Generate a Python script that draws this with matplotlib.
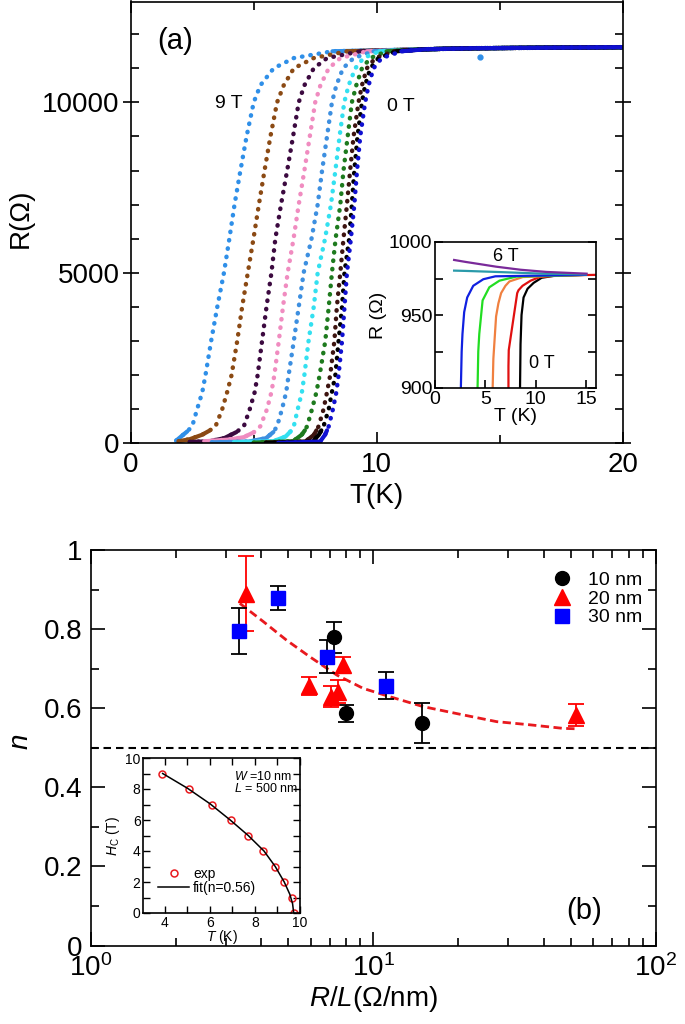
import numpy as np
import matplotlib
matplotlib.use("Agg")
import matplotlib.pyplot as plt
from matplotlib.lines import Line2D
from matplotlib.ticker import MultipleLocator, FixedLocator, FuncFormatter

plt.rcParams['font.family'] = ['Liberation Sans', 'DejaVu Sans']
plt.rcParams['mathtext.fontset'] = 'custom'
plt.rcParams['mathtext.rm'] = 'Liberation Sans'
plt.rcParams['mathtext.it'] = 'Liberation Sans:italic'
plt.rcParams['axes.linewidth'] = 1.2

# ---------------- panel (a): R(T) in fields 9 T ... 0 T
curve_colors = ['#2f8fe8', '#8b4a14', '#3c0a40', '#f08cc0', '#3d8fe0',
                '#33e0f0', '#1e7a1e', '#3d1410', '#000000', '#1010d0']

# resistance levels of the transition part (Ohm)
R_steep = [500, 1000, 1500, 2000, 3000, 4000, 5000, 6000, 7000, 8000,
           9000, 10000, 10500, 11000, 11300, 11500]

# temperature (K) where each curve crosses those levels, 9 T first
T_9T = [2.50, 2.70, 2.91, 3.04, 3.27, 3.52, 3.79, 4.01, 4.22, 4.46, 4.71, 5.00, 5.27, 5.81, 6.63, 8.2]
T_8T = [3.45, 3.72, 3.92, 4.10, 4.33, 4.53, 4.76, 4.99, 5.21, 5.44, 5.68, 5.95, 6.22, 6.63, 7.44, 8.79]
T_7T = [4.60, 4.84, 5.04, 5.16, 5.34, 5.52, 5.72, 5.88, 6.11, 6.36, 6.60, 6.83, 7.06, 7.44, 7.98, 9.33]
T_6T = [5.27, 5.54, 5.72, 5.84, 6.02, 6.19, 6.38, 6.62, 6.83, 7.06, 7.28, 7.50, 7.71, 8.05, 8.52, 9.60]
T_5T = [5.95, 6.15, 6.32, 6.42, 6.63, 6.83, 7.03, 7.35, 7.60, 7.78, 7.98, 8.18, 8.36, 8.63, 9.06, 9.87]
T_4T = [6.63, 6.79, 6.96, 7.06, 7.23, 7.44, 7.60, 7.90, 8.14, 8.32, 8.49, 8.68, 8.86, 9.13, 9.46, 10.1]
T_3T = [7.17, 7.37, 7.55, 7.68, 7.91, 8.05, 8.18, 8.33, 8.52, 8.65, 8.82, 8.99, 9.17, 9.40, 9.74, 10.4]
T_2T = [7.64, 7.84, 7.98, 8.11, 8.28, 8.38, 8.52, 8.65, 8.79, 8.92, 9.06, 9.26, 9.40, 9.60, 9.94, 10.7]
T_1T = [7.84, 8.05, 8.18, 8.32, 8.45, 8.59, 8.69, 8.88, 8.99, 9.09, 9.22, 9.40, 9.53, 9.74, 10.07, 10.8]
T_0T = [8.05, 8.22, 8.36, 8.45, 8.59, 8.69, 8.79, 8.95, 9.09, 9.20, 9.33, 9.53, 9.67, 9.87, 10.2, 11.0]
T_steep = [T_9T, T_8T, T_7T, T_6T, T_5T, T_4T, T_3T, T_2T, T_1T, T_0T]

# low temperature tails (T, R) below 500 Ohm
tail_T = [[1.85, 2.05, 2.3], [1.95, 2.4, 2.9, 3.2], [2.4, 3.2, 3.8, 4.3],
          [3.0, 4.0, 4.6, 5.0], [3.3, 4.8, 5.5, 5.8], [4.2, 5.8, 6.3, 6.5],
          [5.0, 6.6, 6.95, 7.08], [5.5, 7.1, 7.45, 7.55], [5.5, 7.4, 7.65, 7.75],
          [6.0, 7.7, 7.9, 7.98]]
tail_R = [[80, 200, 350], [60, 120, 250, 370], [40, 60, 150, 330],
          [60, 110, 180, 320], [30, 50, 150, 330], [30, 60, 200, 350],
          [20, 60, 250, 380], [20, 50, 250, 380], [10, 50, 250, 380],
          [10, 50, 250, 380]]

# normal state plateau
plat_T = [12.0, 14.0, 20.0]
plat_R = [11560, 11590, 11620]
stray_T = [14.2]
stray_R = [11330]

# inset (a): R(T) of a second sample, 0 T ... 6 T
in_colors = ['#000000', '#e01010', '#f08040', '#22dd22', '#1020e0', '#2a9aaa', '#7a2a9a']
in_T = [[8.45, 8.5, 8.6, 8.8, 9.2, 9.8, 10.6, 12.0, 15.0],
        [7.3, 7.3, 7.33, 8.17, 8.3, 8.7, 9.5, 10.4, 12.0, 16.0],
        [5.73, 5.8, 6.07, 6.3, 6.57, 7.0, 7.4, 8.73, 15.0],
        [4.23, 4.3, 4.4, 4.73, 5.4, 6.4, 8.07, 15.0],
        [2.57, 2.65, 2.73, 2.9, 3.2, 3.8, 4.8, 6.0, 15.0],
        [1.9, 3.0, 6.07, 10.0, 15.0],
        [1.9, 3.0, 4.5, 6.07, 8.5, 11.07, 15.07]]
in_R = [[900, 930, 950, 962, 968, 972, 975.5, 977, 977.5],
        [900, 915, 926, 965, 967, 970, 973.5, 976, 977, 977.5],
        [900, 920, 949, 958, 965, 970, 973, 976, 977.5],
        [900, 925, 937, 960, 969, 973.5, 976.3, 977.5],
        [900, 925, 937, 952, 962, 970, 974.5, 976.5, 977.5],
        [980.4, 980.2, 979.5, 978.5, 977.8],
        [987.7, 986.4, 984.8, 983.1, 981.0, 979.5, 978.3]]

# ---------------- panel (b): exponent n versus R/L
x10 = [7.27, 8.0, 14.9]
n10 = [0.779, 0.587, 0.562]
e10 = [0.04, 0.021, 0.05]
x20 = [3.54, 5.93, 7.08, 7.51, 7.83, 52.1]
n20 = [0.890, 0.657, 0.629, 0.642, 0.709, 0.583]
e20 = [0.095, 0.023, 0.026, 0.03, 0.02, 0.028]
x30 = [3.35, 4.61, 6.87, 11.08]
n30 = [0.796, 0.879, 0.730, 0.657]
e30 = [0.058, 0.03, 0.042, 0.035]
guide_x = [3.37, 4.08, 4.93, 5.96, 7.42, 9.21, 11.45, 15.0, 20.8, 27.3, 35.8, 46.9, 52.0]
guide_n = [0.865, 0.819, 0.772, 0.730, 0.684, 0.650, 0.629, 0.604, 0.583, 0.566, 0.558, 0.549, 0.548]

# inset (b): Hc(T) of the W=10 nm, L=500 nm wire
hc_T = [3.88, 5.05, 6.1, 6.94, 7.7, 8.37, 8.89, 9.29, 9.66, 9.73]
hc_H = [9, 8, 7, 6, 5, 4, 3, 2, 1, 0]
fit_T = [3.9, 5.0, 6.0, 6.9, 7.7, 8.4, 8.9, 9.3, 9.55, 9.67, 9.72]
fit_H = [9.0, 8.05, 7.05, 6.0, 5.0, 4.0, 3.0, 2.0, 1.2, 0.6, 0.0]

W, H = 685, 1024
fig = plt.figure(figsize=(W / 100, H / 100), dpi=100)


def box(l, t, r, b):
    return [l / W, (H - b) / H, (r - l) / W, (b - t) / H]


# ---- panel (a)
ax1 = fig.add_axes(box(130.7, 1.5, 622.7, 443.3))
for i in range(len(T_steep)):
    T = tail_T[i] + T_steep[i] + plat_T
    R = tail_R[i] + R_steep + plat_R
    z = 2 + i * 0.01
    # measured points: dense where R(T) is flat, separated on the steep part
    ax1.plot(T, R, color=curve_colors[i], lw=3.2, linestyle=(0, (0.1, 1.8)),
             dash_capstyle='round', zorder=z)
    ax1.plot(tail_T[i], tail_R[i], color=curve_colors[i], lw=3.0,
             solid_capstyle='round', zorder=z)
    ax1.plot(T_steep[i][-1:] + plat_T, R_steep[-1:] + plat_R, color=curve_colors[i],
             lw=3.0, solid_capstyle='round', zorder=z)
ax1.plot(stray_T, stray_R, 'o', color=curve_colors[0], ms=3.5, zorder=3)
ax1.set_xlim(0, 20)
ax1.set_ylim(0, 12960)
ax1.xaxis.set_major_locator(MultipleLocator(10))
ax1.xaxis.set_minor_locator(MultipleLocator(5))
ax1.yaxis.set_major_locator(MultipleLocator(5000))
ax1.yaxis.set_minor_locator(MultipleLocator(1000))
ax1.tick_params(which='both', direction='in', top=True, right=True, labelsize=20, width=1.2)
ax1.tick_params(which='major', length=8, pad=6)
ax1.tick_params(which='minor', length=6)
ax1.tick_params(axis='y', which='major', direction='inout', length=12, pad=2)
ax1.set_xlabel('T(K)', fontsize=20, labelpad=4)
ax1.set_ylabel('R(\u03a9)', fontsize=20)
ax1.yaxis.set_label_coords(-0.197, 0.51)
ax1.text(0.09, 0.91, '(a)', fontsize=21, ha='center', va='center', transform=ax1.transAxes)
ax1.text(4.0, 9970, '9 T', fontsize=14, ha='center', va='center')
ax1.text(11.0, 9880, '0 T', fontsize=14, ha='center', va='center')

# ---- inset (a)
ax1i = fig.add_axes(box(435, 242, 596, 388))
for i in range(len(in_T)):
    ax1i.plot(in_T[i], in_R[i], color=in_colors[i], lw=1.6)
ax1i.set_xlim(0, 16)
ax1i.set_ylim(900, 1000)
ax1i.xaxis.set_major_locator(MultipleLocator(5))
ax1i.yaxis.set_major_locator(MultipleLocator(50))
ax1i.yaxis.set_minor_locator(MultipleLocator(25))
ax1i.tick_params(which='both', direction='in', right=True, labelsize=14, width=1.2, pad=2)
ax1i.tick_params(which='major', length=6)
ax1i.tick_params(which='minor', length=6)
ax1i.set_xlabel('T (K)', fontsize=14, labelpad=0)
ax1i.set_ylabel('R (\u03a9)', fontsize=14, labelpad=1)
ax1i.text(7.0, 990, '6 T', fontsize=13, ha='center', va='center')
ax1i.text(10.6, 917, '0 T', fontsize=13, ha='center', va='center')

# ---- panel (b)
eb = dict(capsize=6, elinewidth=1.3, capthick=1.3, zorder=4)
ax2 = fig.add_axes(box(90.7, 550, 656, 945.5))
ax2.errorbar(x10, n10, yerr=e10, fmt='o', color='black', ecolor='black', ms=10, **eb)
ax2.errorbar(x20, n20, yerr=e20, fmt='^', color='red', ecolor='red', ms=11, **eb)
ax2.errorbar(x30, n30, yerr=e30, fmt='s', color='blue', ecolor='black', ms=10, **eb)
ax2.plot(guide_x, guide_n, color='#e8191e', lw=2, linestyle=(0, (3, 1.6)), zorder=3)
ax2.axhline(0.5, color='black', lw=1.5, linestyle=(0, (3.6, 2.4)), zorder=2)
ax2.set_xscale('log')
ax2.set_xlim(1, 100)
ax2.set_ylim(0, 1)
ax2.yaxis.set_major_locator(MultipleLocator(0.2))
ax2.yaxis.set_minor_locator(MultipleLocator(0.1))
ax2.yaxis.set_major_formatter(FuncFormatter(lambda v, p: '%g' % round(v, 1)))
ax2.tick_params(which='both', direction='in', top=True, right=True, labelsize=20, width=1.2)
ax2.tick_params(which='major', length=10, pad=6)
ax2.tick_params(which='minor', length=6)
ax2.set_xlabel('$R$/$L$(\u03a9/nm)', fontsize=20, labelpad=2)
ax2.set_ylabel('$n$', fontsize=20)
ax2.yaxis.set_label_coords(-0.100, 0.515)
handles = [Line2D([], [], marker='o', ls='none', color='black', ms=10),
           Line2D([], [], marker='^', ls='none', color='red', ms=11),
           Line2D([], [], marker='s', ls='none', color='blue', ms=10)]
ax2.legend(handles, ['10 nm', '20 nm', '30 nm'], loc='upper left',
           bbox_to_anchor=(0.80, 0.965), frameon=False, fontsize=14,
           handletextpad=0.7, labelspacing=0.05, handlelength=1.2, borderaxespad=0)
ax2.text(0.873, 0.087, '(b)', fontsize=21, ha='center', va='center', transform=ax2.transAxes)

# ---- inset (b)
ax2i = fig.add_axes(box(143.3, 758, 300, 913))
ax2i.plot(hc_T, hc_H, 'o', mfc='none', mec='#e8191e', ms=5, mew=1.1, label='exp')
ax2i.plot(fit_T, fit_H, color='black', lw=1.1, label='fit(n=0.56)')
ax2i.set_xlim(3.04, 10)
ax2i.set_ylim(0, 10)
ax2i.xaxis.set_major_locator(FixedLocator([4, 6, 8, 10]))
ax2i.xaxis.set_minor_locator(FixedLocator([5, 7, 9]))
ax2i.yaxis.set_major_locator(MultipleLocator(2))
ax2i.yaxis.set_minor_locator(MultipleLocator(1))
ax2i.tick_params(which='both', direction='in', top=True, right=True, labelsize=10, width=1.0, pad=2)
ax2i.tick_params(which='major', length=5)
ax2i.tick_params(which='minor', length=5)
ax2i.set_xlabel('$T$ (K)', fontsize=10, labelpad=-1)
ax2i.set_ylabel('$H_{\\rm C}$ (T)', fontsize=10, labelpad=2)
ax2i.text(0.58, 0.88, '$W$ =10 nm', fontsize=9, transform=ax2i.transAxes, va='center')
ax2i.text(0.58, 0.80, '$L$ = 500 nm', fontsize=9, transform=ax2i.transAxes, va='center')
ax2i.legend(loc='lower left', bbox_to_anchor=(0.06, 0.08), frameon=False, fontsize=10,
            handlelength=2.2, handletextpad=0.3, labelspacing=0.0, borderaxespad=0)

fig.savefig('out.png', dpi=100)
